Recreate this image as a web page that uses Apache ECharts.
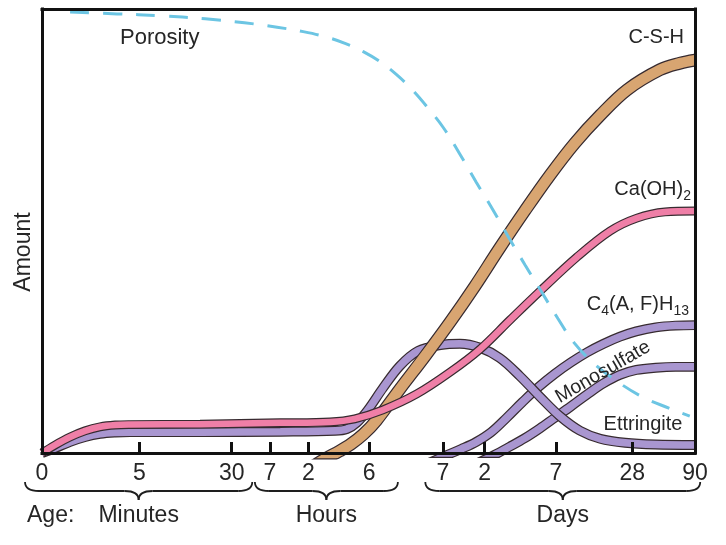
<!DOCTYPE html>
<html>
<head>
<meta charset="utf-8">
<script src="https://cdn.jsdelivr.net/npm/echarts@6/dist/echarts.min.js"></script>
<style>
html,body{margin:0;padding:0;background:#fff;}
#chart{width:726px;height:545px;}
</style>
</head>
<body>
<div id="chart"></div>
<script>
// ---- Data (x in relative age-axis units 0..100, y = relative amount 0..100) ----
const tickPositions = [0, 14.9, 29.05, 34.9, 40.8, 50.1, 61.4, 67.8, 78.7, 90.4, 100];
const tickLabels = ['0', '5', '30', '7', '2', '6', '7', '2', '7', '28', '90'];
const groupNames = ['Minutes', 'Hours', 'Days'];
const groupSpans = [[-2.6, 32.2], [32.6, 54.5], [58.7, 100.8]];

const porosity = [[4.3,99.3],[11.5,98.9],[18.0,98.5],[25.0,97.8],[31.0,96.9],[36.0,95.9],[40.0,94.9],[43.5,93.7],[46.5,92.2],[49.2,90.4],[51.8,88.1],[54.3,85.2],[56.7,81.8],[59.0,77.9],[61.5,73.2],[64.0,67.3],[66.5,61.0],[69.0,54.9],[71.5,48.5],[74.0,42.3],[76.5,36.3],[79.0,30.3],[81.5,24.8],[84.5,20.2],[88.0,16.2],[92.0,12.6],[96.0,10.1],[99.2,8.3]];
const csh = [[41.5,-3.0],[43.5,-1.2],[45.5,0.4],[47.3,2.0],[49.2,4.2],[51.2,7.3],[54.8,14.4],[58.7,21.9],[62.5,29.5],[66.3,37.6],[70.1,46.2],[74.0,54.7],[77.8,62.6],[81.6,69.8],[85.5,76.1],[89.6,81.8],[94.6,86.3],[97.7,87.8],[100,88.5]];
const caoh2 = [[0,0],[2.0,1.8],[4.3,3.6],[6.6,5.0],[8.9,5.9],[11.2,6.3],[13.5,6.4],[24.2,6.5],[36.5,6.8],[44.1,7.0],[47.9,7.7],[52.2,9.7],[57.4,13.3],[62.5,18.2],[67.1,23.4],[71.7,30.0],[76.3,36.5],[81.9,44.1],[87.0,50.0],[91.1,52.9],[95.4,54.3],[100,54.5]];
const ettringite = [[0,0],[2.0,1.1],[4.3,2.5],[6.6,3.6],[8.9,4.3],[11.2,4.6],[13.5,4.7],[24.2,4.7],[36.5,4.8],[44.9,5.0],[46.7,5.4],[48.2,6.8],[49.9,9.7],[52.2,14.6],[54.8,19.6],[57.6,23.0],[61.0,24.3],[64.0,24.6],[67.1,23.7],[70.1,21.4],[73.2,17.3],[76.3,12.6],[79.3,8.3],[82.4,5.0],[85.5,3.2],[89.3,2.3],[93.9,1.9],[100,1.8]];
const c4afh13 = [[59.3,-2.2],[61.8,-0.6],[64.2,0.9],[66.5,2.5],[68.8,4.7],[71.2,8.0],[73.6,11.5],[76.0,14.8],[78.5,17.8],[81.0,20.4],[83.5,22.7],[86.0,24.6],[88.5,26.2],[91.0,27.4],[94.0,28.3],[97.0,28.7],[100,28.8]];
const monosulfate = [[66.8,-2.2],[69.2,-0.5],[71.6,1.4],[73.9,3.3],[76.2,5.5],[78.6,8.0],[81.0,10.5],[83.5,13.2],[86.0,15.7],[88.5,17.6],[91.0,18.7],[94.0,19.2],[97.0,19.4],[100,19.4]];

// ---- Styling ----
const FONT = 'Liberation Sans, Arial, Helvetica, sans-serif';
const TEXT = '#262626';
const OUTLINE = '#372b30';
const TAN = '#d8a571', PINK = '#ef7fa7', PURPLE = '#a996d0', BLUE = '#6cc5e3';

function ribbon(name, data, color, width) {
  const base = {type: 'line', data: data, showSymbol: false, symbol: 'none', smooth: 0.35,
    clip: true, silent: true, animation: false, xAxisIndex: 0, yAxisIndex: 0};
  return [
    Object.assign({}, base, {name: name + '_edge', lineStyle: {color: OUTLINE, width: width + 2.4, cap: 'butt'}}),
    Object.assign({}, base, {name: name, lineStyle: {color: color, width: width, cap: 'butt'}})
  ];
}

const chart = echarts.init(document.getElementById('chart'), null, {renderer: 'canvas'});
const hiddenAxis = {show: true, axisTick: {show: false}, axisLabel: {show: false}, splitLine: {show: false},
  min: 0, max: 100, z: 10, axisLine: {show: true, onZero: false, lineStyle: {color: '#111', width: 3, cap: 'square'}}};

const series = [].concat(
  ribbon('C4(A, F)H13', c4afh13, PURPLE, 7.5),
  ribbon('Monosulfate', monosulfate, PURPLE, 7.5),
  ribbon('Ettringite', ettringite, PURPLE, 7.5),
  ribbon('C-S-H', csh, TAN, 10.5),
  ribbon('Ca(OH)2', caoh2, PINK, 6.5),
  [{type: 'line', name: 'Porosity', data: porosity, showSymbol: false, symbol: 'none', smooth: 0.4,
    silent: true, animation: false, lineStyle: {color: BLUE, width: 3, type: [19, 14]}}]
);

chart.setOption({
  animation: false,
  backgroundColor: '#fff',
  grid: {left: 42, right: 31, top: 9, bottom: 92, containLabel: false},
  xAxis: [
    {type: 'value', min: 0, max: 100, position: 'bottom', z: 10,
     splitLine: {show: false},
     axisLine: {show: true, onZero: false, lineStyle: {color: '#111', width: 3, cap: 'square'}},
     axisTick: {show: true, inside: true, length: 11, customValues: tickPositions.slice(1, -1),
                lineStyle: {color: '#111', width: 3}},
     axisLabel: {show: true, customValues: tickPositions, margin: 9, fontSize: 23, fontFamily: FONT, color: TEXT,
                 formatter: function (v) { const i = tickPositions.indexOf(v); return i >= 0 ? tickLabels[i] : ''; }}},
    Object.assign({type: 'value', position: 'top'}, hiddenAxis)
  ],
  yAxis: [
    Object.assign({type: 'value', position: 'left'}, hiddenAxis),
    Object.assign({type: 'value', position: 'right'}, hiddenAxis)
  ],
  series: series
});

// ---- Annotations ----
const axisY = chart.convertToPixel({gridIndex: 0}, [0, 0])[1];
const braceTop = axisY + 29;
const braceStyle = {fill: null, stroke: '#1e1e1e', lineWidth: 1.8};
function bez(a, b, c, d) {
  return {type: 'bezierCurve', z: 20, silent: true, style: braceStyle,
    shape: {x1: a[0], y1: a[1], cpx1: b[0], cpy1: b[1], cpx2: c[0], cpy2: c[1], x2: d[0], y2: d[1]}};
}
function seg(a, b) {
  return {type: 'line', z: 20, silent: true, style: braceStyle, shape: {x1: a[0], y1: a[1], x2: b[0], y2: b[1]}};
}
const graphics = [];
groupSpans.forEach(function (span, i) {
  const x1 = chart.convertToPixel({gridIndex: 0}, [span[0], 0])[0];
  const x2 = chart.convertToPixel({gridIndex: 0}, [span[1], 0])[0];
  const xm = (x1 + x2) / 2, y = braceTop, h = y + 9, c = y + 18;
  graphics.push(bez([x1, y], [x1, y + 6], [x1 + 4, h], [x1 + 14, h]));
  graphics.push(seg([x1 + 14, h], [xm - 14, h]));
  graphics.push(bez([xm - 14, h], [xm - 5, h], [xm, h + 3], [xm, c]));
  graphics.push(bez([xm, c], [xm, h + 3], [xm + 5, h], [xm + 14, h]));
  graphics.push(seg([xm + 14, h], [x2 - 14, h]));
  graphics.push(bez([x2 - 14, h], [x2 - 4, h], [x2, y + 6], [x2, y]));
  graphics.push({type: 'text', x: xm, y: braceTop + 34, z: 20, silent: true,
    style: {text: groupNames[i], fontSize: 23, fontFamily: FONT, fill: TEXT, align: 'center', verticalAlign: 'middle'}});
});
const sub = {fontSize: 14, lineHeight: 14, verticalAlign: 'bottom', fontFamily: FONT, fill: TEXT};
const texts = [
  {text: 'Age:', x: 27, y: braceTop + 34, size: 23, align: 'left'},
  {text: 'Porosity', x: 120, y: 38, size: 22, align: 'left'},
  {text: 'C-S-H', x: 684, y: 37, size: 20, align: 'right'},
  {text: 'Ca(OH){s|2}', x: 691, y: 189, size: 20, align: 'right', rich: true},
  {text: 'C{s|4}(A, F)H{s|13}', x: 689, y: 304, size: 20, align: 'right', rich: true},
  {text: 'Monosulfate', x: 603, y: 372, size: 19.5, align: 'center', rot: 30},
  {text: 'Ettringite', x: 643, y: 424, size: 20, align: 'center'}
];
texts.forEach(function (t) {
  const st = {text: t.text, fontSize: t.size, fontFamily: FONT, fill: TEXT, align: t.align,
    verticalAlign: 'middle', lineHeight: t.rich ? 28 : t.size};
  if (t.rich) st.rich = {s: sub};
  graphics.push({type: 'text', x: t.x, y: t.y, rotation: (t.rot || 0) * Math.PI / 180, style: st, z: 20, silent: true});
});
graphics.push({type: 'text', x: 24, y: 252, rotation: Math.PI / 2, z: 20, silent: true,
  style: {text: 'Amount', fontSize: 23, fontFamily: FONT, fill: TEXT, align: 'center', verticalAlign: 'middle'}});
chart.setOption({graphic: graphics});
</script>
</body>
</html>
